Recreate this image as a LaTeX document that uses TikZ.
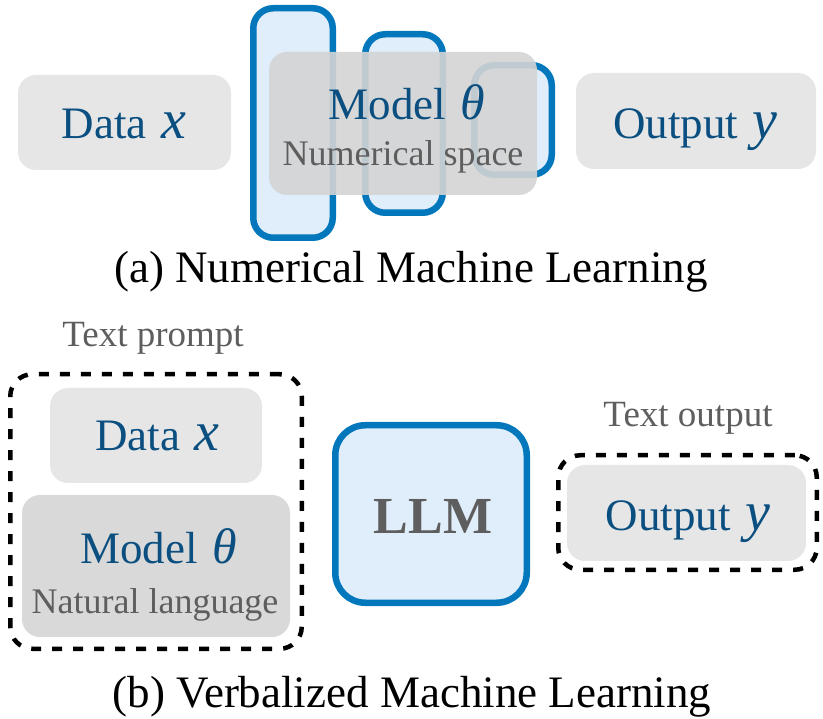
\documentclass[tikz,border=0pt]{standalone}
\usepackage{fontspec}
\setmainfont{Liberation Serif}
\usetikzlibrary{positioning}

\definecolor{boxgray}{HTML}{E6E6E6}
\definecolor{modelgray}{HTML}{D9D9D9}
\definecolor{overgray}{HTML}{D4D4D4}
\definecolor{nnblue}{HTML}{0277BC}
\definecolor{nnfill}{HTML}{E0EEFC}
\definecolor{labblue}{HTML}{0B4F80}
\definecolor{labgray}{HTML}{5E5E5E}

\newcommand{\bigsize}{\fontsize{45}{50}\selectfont}
\newcommand{\smallsize}{\fontsize{36}{40}\selectfont}
\newcommand{\llmsize}{\fontsize{52}{56}\selectfont}
\newcommand{\var}[2]{\hspace{3pt}\textit{\fontsize{#1}{#1}\selectfont #2}}

\begin{document}
\begin{tikzpicture}[
    x=1pt, y=-1pt,
    plate/.style={fill=boxgray, rounded corners=18pt, inner sep=0pt},
    layer/.style={draw=nnblue, fill=nnfill, line width=6.5pt, rounded corners=20pt, inner sep=0pt},
    frame/.style={draw=black, line width=4.5pt, dash pattern=on 10pt off 11pt, rounded corners=22pt, inner sep=0pt},
    boxtext/.style={text=labblue, font=\bigsize, inner sep=0pt, anchor=base},
    tag/.style={text=labgray, font=\smallsize, inner sep=0pt, anchor=base},
    caption/.style={font=\bigsize, inner sep=0pt, anchor=base}
]
\useasboundingbox (0,0) rectangle (823,719);

% (a) numerical machine learning
\node[plate, minimum width=213pt, minimum height=95pt] (datax) at (124.5,122.5) {};
\node[boxtext] (dataxtxt) at (124,139) {Data \var{56}{x}};
\node[layer, minimum width=79.5pt, minimum height=229.5pt] (nn1) at (293,123) {};
\node[layer, minimum width=77.5pt, minimum height=178.5pt] (nn2) at (404,123.5) {};
\node[layer, minimum width=77.5pt, minimum height=109.5pt] (nn3) at (513,120) {};
\node[fill=overgray, fill opacity=0.9, rounded corners=18pt, minimum width=268pt, minimum height=143pt] (modela) at (403,123.5) {};
\node[boxtext] (modelatxt) at (407,120) {Model \var{50}{θ}};
\node[tag] (numspace) at (403,166) {Numerical space};
\node[plate, minimum width=240pt, minimum height=96pt] (outa) at (696,121) {};
\node[boxtext] (outatxt) at (695.5,139) {Output \var{56}{y}};
\node[caption] (capa) at (411,283) {(a) Numerical Machine Learning};

% (b) verbalized machine learning
\node[tag, font=\fontsize{37}{40}\selectfont] (prompt) at (153,347) {Text prompt};
\node[frame, minimum width=291.5pt, minimum height=274.5pt] (promptbox) at (156,511.5) {};
\node[plate, minimum width=212pt, minimum height=95pt] (datab) at (156,435.5) {};
\node[boxtext] (databtxt) at (157.5,451) {Data \var{56}{x}};
\node[plate, fill=modelgray, minimum width=268pt, minimum height=142pt] (modelb) at (156,566) {};
\node[boxtext] (modelbtxt) at (158.5,563) {Model \var{50}{θ}};
\node[tag] (natlang) at (155,613) {Natural language};
\node[layer, rounded corners=30pt, minimum width=191.5pt, minimum height=177.5pt] (llm) at (431,514) {};
\node[text=labgray, font=\llmsize\bfseries, inner sep=0pt, anchor=base] (llmtxt) at (433,533) {LLM};
\node[tag, font=\fontsize{37}{40}\selectfont] (textout) at (688,427) {Text output};
\node[frame, minimum width=258.5pt, minimum height=114.5pt] (outbox) at (687.5,512.5) {};
\node[plate, minimum width=239pt, minimum height=96pt] (outb) at (686.5,513) {};
\node[boxtext] (outbtxt) at (688,530) {Output \var{56}{y}};
\node[caption] (capb) at (412,707) {(b) Verbalized Machine Learning};
\end{tikzpicture}
\end{document}
